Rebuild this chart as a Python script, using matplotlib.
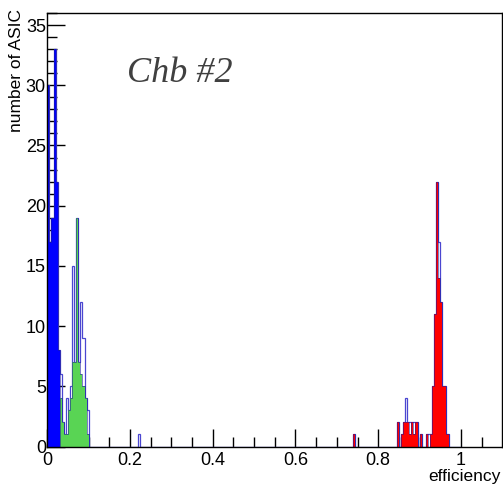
import numpy as np
import matplotlib
matplotlib.use('Agg')
import matplotlib.pyplot as plt
from matplotlib.ticker import MultipleLocator, FuncFormatter

# ---------------- data (bins of 0.005 on [0, 1]) ----------------
bin_width = 0.005
n_bins = 200

blue_lefts = [0.000, 0.005, 0.010, 0.015, 0.020, 0.025]
blue_counts = [30, 17, 19, 33, 22, 8]

green_lefts = [0.030, 0.035, 0.040, 0.045, 0.050, 0.055, 0.060, 0.065,
               0.070, 0.075, 0.080, 0.085, 0.090, 0.095]
green_counts = [4, 2, 1, 1, 3, 4, 7, 7, 19, 7, 6, 5, 4, 1]

red_lefts = [0.740, 0.845, 0.855, 0.860, 0.865, 0.870, 0.875, 0.880, 0.885,
             0.890, 0.900, 0.915, 0.925, 0.930, 0.935, 0.940, 0.945, 0.950,
             0.955, 0.960, 0.965]
red_counts = [1, 2, 1, 2, 2, 2, 1, 2, 1, 2, 1, 1, 1, 5, 11, 22, 14, 12, 5, 5, 1]

# bins that only show as hollow outline (no fill)
hollow_lefts = [0.030, 0.045, 0.055, 0.060, 0.080, 0.085, 0.095, 0.220,
                0.865, 0.875, 0.885, 0.920, 0.945]
hollow_counts = [6, 4, 5, 15, 12, 9, 3, 1, 4, 2, 2, 1, 17]

x_tick_values = [0, 0.2, 0.4, 0.6, 0.8, 1.0]
y_tick_values = [0, 5, 10, 15, 20, 25, 30, 35]


def to_full(lefts, counts):
    arr = np.zeros(n_bins)
    idx = np.round(np.array(lefts) / bin_width).astype(int)
    arr[idx] = counts
    return arr


edges = np.linspace(0, n_bins * bin_width, n_bins + 1)
blue = to_full(blue_lefts, blue_counts)
green = to_full(green_lefts, green_counts)
red = to_full(red_lefts, red_counts)
hollow = to_full(hollow_lefts, hollow_counts)
envelope = np.maximum.reduce([blue, green, red, hollow])

# ---------------- figure ----------------
fig = plt.figure(figsize=(5.03, 4.88), dpi=100)
ax = fig.add_axes([47.3 / 503, 1 - 446.5 / 488, (501.5 - 47.3) / 503, (446.5 - 13) / 488])

hollow_col = '#4a46d0'
edge_col = '#1c1c9c'
# hollow outline histogram first (ROOT-style overlay order)
ax.stairs(envelope, edges, fill=False, baseline=0, edgecolor=hollow_col,
          linewidth=0.9, zorder=1.0)
for vals, fc, z in [(blue, '#0000ff', 1.1), (green, '#59d454', 1.2), (red, '#ff0000', 1.3)]:
    ax.stairs(vals, edges, fill=True, color=fc, linewidth=0, zorder=z)
    ax.stairs(vals, edges, fill=False, baseline=None, edgecolor=edge_col,
              linewidth=0.4, zorder=z + 0.05)

ax.set_xlim(0, 1.098)
ax.set_ylim(0, 36.0)
ax.set_axisbelow(True)

for s in ax.spines.values():
    s.set_linewidth(1.0)
    s.set_color('black')

ax.set_xticks(x_tick_values)
ax.set_yticks(y_tick_values)
ax.xaxis.set_minor_locator(MultipleLocator(0.05))
ax.yaxis.set_minor_locator(MultipleLocator(1))
ax.xaxis.set_major_formatter(FuncFormatter(lambda v, p: ('%g' % v)))
ax.yaxis.set_major_formatter(FuncFormatter(lambda v, p: ('%g' % v)))

ax.tick_params(which='both', direction='in', top=False, right=False, color='black', width=1.0)
ax.tick_params(which='major', length=13)
ax.tick_params(which='minor', length=7)
ax.tick_params(axis='x', which='major', pad=4, labelsize=13)
ax.tick_params(axis='y', which='major', pad=1, labelsize=13)
for lab in ax.get_xticklabels() + ax.get_yticklabels():
    lab.set_fontfamily('Liberation Sans')

fig.text(17 / 503, 1 - 9 / 488, 'number of ASIC', rotation=90, ha='center', va='top',
         fontsize=12.5, family='Liberation Sans')
fig.text(501 / 503, 1 - 477 / 488, 'efficiency', ha='right', va='center',
         fontsize=12.5, family='Liberation Sans')
fig.text(127 / 503, 1 - 82 / 488, 'Chb #2', ha='left', va='baseline',
         fontsize=26, family='Liberation Serif', style='italic', color='#404040')

fig.savefig('out.png', dpi=100)
